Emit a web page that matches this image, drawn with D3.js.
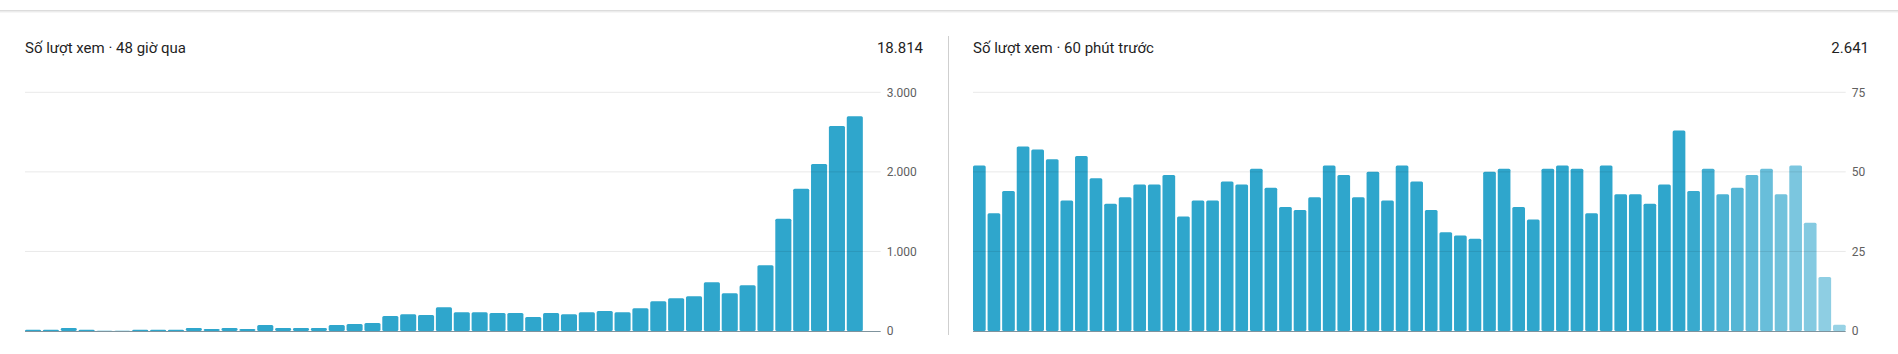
<!DOCTYPE html>
<html>
<head>
<meta charset="utf-8">
<script src="https://cdn.jsdelivr.net/npm/d3@7"></script>
<style>
  body { margin: 0; background: #fff; font-family: Roboto, "Noto Sans", sans-serif; }
  svg { display: block; }
  .title { font-size: 15px; fill: #1f1f1f; }
  .tick-label { font-size: 12px; fill: #606060; }
</style>
</head>
<body>
<div id="chart"></div>
<script>
// Views per hour, last 48 hours (last slot is the current hour)
const hoursValues = [
  15, 15, 37, 15, 3, 3, 15, 15, 15, 37, 25, 37, 25, 75, 37, 37,
  37, 75, 87, 100, 187, 212, 200, 300, 237, 237, 225, 225, 175, 225, 212, 237,
  250, 237, 287, 375, 412, 437, 612, 475, 575, 825, 1412, 1787, 2100, 2575, 2700, 0
];
const hoursTicks = [0, 1000, 2000, 3000];

// Views per minute, last 60 minutes
const minutesValues = [
  52, 37, 44, 58, 57, 54, 41, 55, 48, 40, 42, 46, 46, 49, 36, 41, 41, 47, 46, 51,
  45, 39, 38, 42, 52, 49, 42, 50, 41, 52, 47, 38, 31, 30, 29, 50, 51, 39, 35, 51,
  52, 51, 37, 52, 43, 43, 40, 46, 63, 44, 51, 43, 45, 49, 51, 43, 52, 34, 17, 2
];
const minutesTicks = [0, 25, 50, 75];

const titles = ['Số lượt xem · 48 giờ qua', 'Số lượt xem · 60 phút trước'];
const totals = ['18.814', '2.641'];

////////////////////////////////////////////////////////////////////////////////
const W = 1898, H = 354;
const svg = d3.select('#chart').append('svg')
  .attr('width', W)
  .attr('height', H);

// top bar shadow
svg.append('rect').attr('x', 0).attr('y', 10).attr('width', W).attr('height', 1).attr('fill', '#dcdcdc');
svg.append('rect').attr('x', 0).attr('y', 11).attr('width', W).attr('height', 1).attr('fill', '#ececec');
svg.append('rect').attr('x', 0).attr('y', 12).attr('width', W).attr('height', 1).attr('fill', '#f6f6f6');

// divider between the two cards
svg.append('line')
  .attr('x1', 948.5).attr('x2', 948.5)
  .attr('y1', 36).attr('y2', 335)
  .attr('stroke', '#cfcfcf');

const fmt = d3.formatLocale({ decimal: ',', thousands: '.', grouping: [3], currency: ['', ''] }).format(',');

const yRange = [331, 92.3];

function drawPanel (opts) {
  const { values, ticks, title, total, x0, x1, totalX, pad, fade } = opts;
  const g = svg.append('g');

  const x = d3.scaleBand()
    .domain(d3.range(values.length))
    .range([x0, x1])
    .paddingInner(pad)
    .paddingOuter(0);
  const y = d3.scaleLinear()
    .domain([0, d3.max(ticks)])
    .range(yRange);

  g.append('text')
    .attr('class', 'title')
    .attr('x', x0)
    .attr('y', 53)
    .text(title);

  g.append('text')
    .attr('class', 'title')
    .attr('text-anchor', 'end')
    .attr('x', totalX)
    .attr('y', 53)
    .text(total);

  // bars
  const n = values.length;
  g.append('g')
    .selectAll('rect')
    .data(values)
    .join('rect')
      .attr('x', (d, i) => x(i))
      .attr('y', d => y(d))
      .attr('width', x.bandwidth())
      .attr('height', d => y(0) - y(d))
      .attr('rx', 1.5)
      .attr('fill', '#2fa6cc')
      .attr('fill-opacity', (d, i) => {
        if (!fade || i < n - fade) return 1;
        return 1 - 0.5 * (i - (n - fade) + 1) / fade;
      });

  // gridlines over bars
  g.append('g')
    .selectAll('line')
    .data(ticks.filter(t => t > 0))
    .join('line')
      .attr('x1', x0)
      .attr('x2', x1)
      .attr('y1', d => y(d))
      .attr('y2', d => y(d))
      .attr('stroke', 'rgba(0,0,0,0.09)');

  // baseline
  g.append('line')
    .attr('x1', x0)
    .attr('x2', x1)
    .attr('y1', y(0) + 0.5)
    .attr('y2', y(0) + 0.5)
    .attr('stroke', '#7f939d');

  g.append('g')
    .selectAll('text')
    .data(ticks)
    .join('text')
      .attr('class', 'tick-label')
      .attr('x', x1 + 6)
      .attr('y', d => y(d))
      .attr('dy', '0.35em')
      .text(d => fmt(d));
}

drawPanel({
  values: hoursValues, ticks: hoursTicks, title: titles[0], total: totals[0],
  x0: 25, x1: 880.7, totalX: 923, pad: 0.1, fade: 0
});

drawPanel({
  values: minutesValues, ticks: minutesTicks, title: titles[1], total: totals[1],
  x0: 973, x1: 1845.7, totalX: 1869, pad: 0.13, fade: 11
});
</script>
</body>
</html>
